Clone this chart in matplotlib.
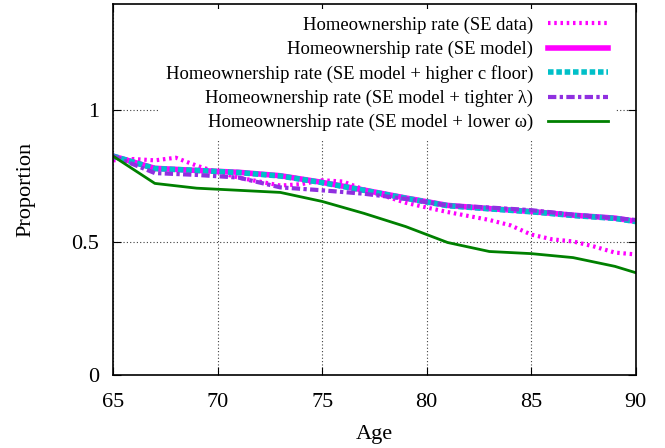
import numpy as np
import matplotlib
matplotlib.use("Agg")
import matplotlib.pyplot as plt

# ______________________ DATA ______________________________
age_data = np.arange(65, 91)
se_data = [0.81, 0.815, 0.81, 0.82, 0.79, 0.765, 0.745, 0.73, 0.715, 0.72,
           0.735, 0.73, 0.70, 0.675, 0.65, 0.632, 0.615, 0.60, 0.585, 0.565,
           0.53, 0.512, 0.504, 0.485, 0.462, 0.455]

age_model = [65, 67, 69, 71, 73, 75, 77, 79, 81, 83, 85, 87, 89, 90]
se_model = [0.826, 0.78, 0.772, 0.765, 0.752, 0.727, 0.698, 0.668, 0.640,
            0.628, 0.617, 0.603, 0.592, 0.580]
higher_cfloor = [0.826, 0.779, 0.772, 0.764, 0.751, 0.726, 0.697, 0.667, 0.639,
                 0.627, 0.616, 0.602, 0.591, 0.579]
tighter_lambda = [0.826, 0.762, 0.755, 0.745, 0.708, 0.697, 0.684, 0.665, 0.640,
                  0.632, 0.622, 0.605, 0.592, 0.585]
lower_omega = [0.826, 0.723, 0.705, 0.697, 0.689, 0.655, 0.610, 0.560, 0.500,
               0.466, 0.458, 0.443, 0.410, 0.386]

labels = ["Homeownership rate (SE data)",
          "Homeownership rate (SE model)",
          "Homeownership rate (SE model + higher c floor)",
          "Homeownership rate (SE model + tighter \u03bb)",
          "Homeownership rate (SE model + lower \u03c9)"]

# ______________________ PLOT ______________________________
plt.rcParams['font.family'] = ['Liberation Serif', 'DejaVu Serif']

fig = plt.figure(figsize=(6.65, 4.48), dpi=100)
ax = fig.add_axes([0.170, 0.163, 0.786, 0.828])

ax.plot(age_data, se_data, color='#ff00ff', lw=3, linestyle=(0, (0.6, 0.9)),
        label=labels[0])
ax.plot(age_model, se_model, color='#ff00ff', lw=4, label=labels[1])
ax.plot(age_model, higher_cfloor, color='#00c0c8', lw=4, linestyle=(0, (1.0, 0.5)),
        label=labels[2])
ax.plot(age_model, tighter_lambda, color='#9030e0', lw=3,
        linestyle=(0, (2.0, 0.8, 0.8, 0.8)), label=labels[3])
ax.plot(age_model, lower_omega, color='#008000', lw=2, label=labels[4])

ax.set_xlim(65, 90)
ax.set_ylim(0, 1.4)
ax.set_xticks([65, 70, 75, 80, 85, 90])
ax.set_yticks([0, 0.5, 1])
ax.set_yticklabels(['0', '0.5', '1'])
ax.tick_params(direction='in', top=True, right=True, labelsize=16, length=6)
ax.tick_params(axis='x', pad=13)
ax.tick_params(axis='y', pad=10)
ax.grid(True, linestyle=(0, (1, 2)), color='#404040', linewidth=0.8)
for s in ax.spines.values():
    s.set_linewidth(1.2)

ax.set_xlabel('Age', fontsize=16, labelpad=9)
ax.set_ylabel('Proportion', fontsize=16, labelpad=26)

leg = ax.legend(loc='upper right', bbox_to_anchor=(0.961, 0.986), borderaxespad=0,
                markerfirst=False, fontsize=13.4,
                handlelength=3.2, handletextpad=0.8, labelspacing=0.37,
                frameon=True, fancybox=False, framealpha=1,
                edgecolor='none', facecolor='white')
for t in leg.get_texts():
    t.set_ha('right')
leg._legend_box.align = 'right'

plt.savefig('out.png', dpi=100)
